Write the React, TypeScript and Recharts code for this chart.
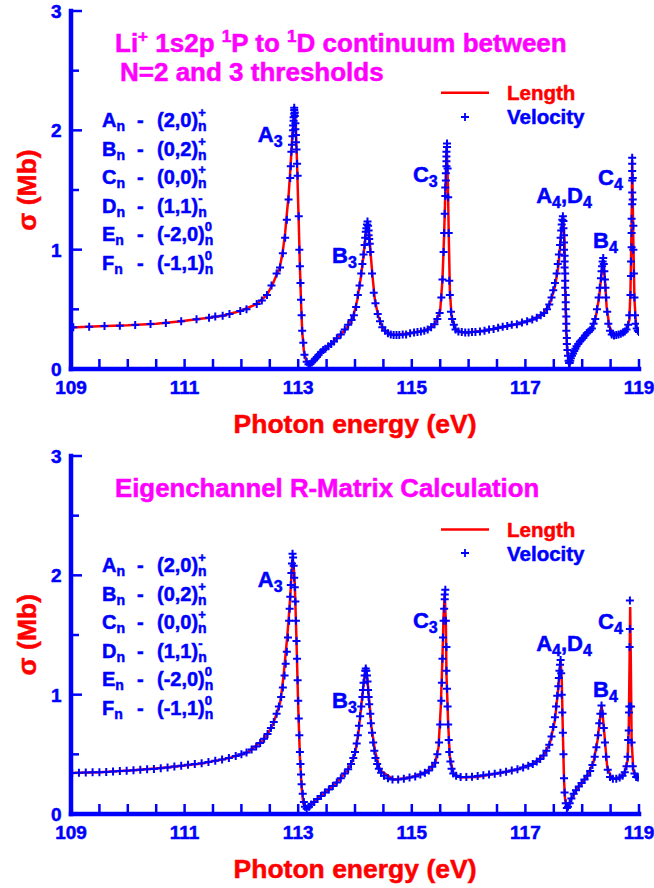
import React from 'react';
import { ComposedChart, Line, Scatter, XAxis, YAxis } from 'recharts';

const FONT = '"Liberation Sans", Arial, Helvetica, sans-serif';
const BLUE = '#0000ff';
const RED = '#ff0000';
const MAGENTA = '#ff00ff';

// ---- axes ----
const X_TICKS = [109, 109.5, 110, 110.5, 111, 111.5, 112, 112.5, 113, 113.5, 114, 114.5, 115, 115.5, 116, 116.5, 117, 117.5, 118, 118.5, 119];
const X_LABELS = [109, 111, 113, 115, 117, 119];
const Y_TICKS = [0, 0.5, 1, 1.5, 2, 2.5, 3];
const Y_LABELS = [0, 1, 2, 3];

// ---- top panel: length form (photon energy eV, sigma Mb) ----
const TOP_LENGTH: [number, number][] = [
  [109.0, 0.348], [109.5, 0.358], [110.0, 0.366], [110.5, 0.38], [110.94, 0.4], [111.21, 0.416], [111.43, 0.43],
  [111.67, 0.447], [111.98, 0.486], [112.27, 0.545], [112.45, 0.62], [112.56, 0.72], [112.62, 0.79], [112.68, 0.86],
  [112.73, 0.99], [112.77, 1.14], [112.8, 1.3], [112.83, 1.45], [112.86, 1.66], [112.88, 1.82], [112.9, 1.98],
  [112.92, 2.1], [112.93, 2.15], [112.945, 2.12], [112.96, 2.02], [112.98, 1.72], [113.0, 1.38], [113.01, 1.22],
  [113.03, 0.86], [113.05, 0.56], [113.07, 0.32], [113.1, 0.15], [113.14, 0.07], [113.19, 0.036], [113.24, 0.05],
  [113.3, 0.085], [113.38, 0.13], [113.53, 0.19], [113.68, 0.257], [113.85, 0.34], [113.97, 0.44], [114.04, 0.58],
  [114.1, 0.76], [114.15, 0.95], [114.19, 1.14], [114.22, 1.23], [114.25, 1.14], [114.28, 0.94], [114.31, 0.77],
  [114.35, 0.58], [114.41, 0.44], [114.5, 0.33], [114.67, 0.285], [114.97, 0.3], [115.26, 0.327], [115.41, 0.38],
  [115.5, 0.49], [115.54, 0.75], [115.57, 1.14], [115.595, 1.56], [115.615, 1.86], [115.635, 1.56], [115.65, 1.14],
  [115.67, 0.66], [115.7, 0.44], [115.76, 0.34], [115.85, 0.31], [115.97, 0.305], [116.26, 0.32], [116.55, 0.346],
  [116.85, 0.375], [117.14, 0.416], [117.32, 0.467], [117.43, 0.55], [117.52, 0.69], [117.58, 0.86], [117.62, 1.08],
  [117.66, 1.28], [117.69, 1.08], [117.7, 0.66], [117.72, 0.3], [117.74, 0.13], [117.77, 0.048], [117.82, 0.103],
  [117.9, 0.187], [118.02, 0.257], [118.17, 0.34], [118.24, 0.44], [118.3, 0.606], [118.34, 0.8], [118.37, 0.91],
  [118.4, 0.75], [118.43, 0.52], [118.48, 0.355], [118.55, 0.285], [118.67, 0.293], [118.78, 0.327], [118.83, 0.41],
  [118.85, 0.66], [118.87, 1.22], [118.88, 1.75], [118.9, 1.08], [118.92, 0.58], [118.95, 0.355], [119.0, 0.31],
];

// ---- top panel: velocity form ----
const TOP_VELOCITY: [number, number][] = [
  [109.04, 0.35], [109.32, 0.355], [109.59, 0.36], [109.86, 0.363], [110.13, 0.369], [110.4, 0.377], [110.67, 0.386],
  [110.94, 0.4], [111.21, 0.416], [111.43, 0.43], [111.54, 0.44], [111.67, 0.447], [111.79, 0.46], [111.98, 0.486],
  [112.09, 0.5], [112.27, 0.545], [112.36, 0.575], [112.45, 0.62], [112.53, 0.7], [112.62, 0.8], [112.68, 0.85],
  [112.73, 0.97], [112.77, 1.1], [112.8, 1.25], [112.83, 1.42], [112.86, 1.6], [112.87, 1.7], [112.88, 1.82],
  [112.89, 1.88], [112.9, 1.95], [112.91, 2.0], [112.91, 2.04], [112.92, 2.08], [112.92, 2.11], [112.93, 2.14],
  [112.93, 2.17], [112.93, 2.19], [112.94, 2.15], [112.94, 2.12], [112.95, 2.06], [112.95, 2.01], [112.96, 1.96],
  [112.96, 1.9], [112.97, 1.84], [112.98, 1.72], [112.99, 1.62], [113.01, 1.28], [113.02, 1.0], [113.03, 0.86],
  [113.04, 0.72], [113.05, 0.58], [113.06, 0.45], [113.07, 0.32], [113.09, 0.22], [113.11, 0.12], [113.15, 0.06],
  [113.18, 0.04], [113.21, 0.04], [113.24, 0.055], [113.27, 0.07], [113.3, 0.085], [113.33, 0.1], [113.36, 0.12],
  [113.4, 0.14], [113.44, 0.16], [113.48, 0.17], [113.53, 0.19], [113.58, 0.21], [113.63, 0.23], [113.68, 0.257],
  [113.75, 0.29], [113.82, 0.33], [113.88, 0.37], [113.94, 0.41], [113.98, 0.45], [114.02, 0.52], [114.05, 0.62],
  [114.08, 0.7], [114.11, 0.8], [114.13, 0.88], [114.15, 0.96], [114.17, 1.04], [114.18, 1.1], [114.19, 1.15],
  [114.2, 1.18], [114.21, 1.21], [114.22, 1.235], [114.23, 1.2], [114.24, 1.16], [114.24, 1.12], [114.25, 1.09],
  [114.26, 1.05], [114.27, 0.98], [114.3, 0.8], [114.33, 0.64], [114.36, 0.55], [114.4, 0.46], [114.44, 0.4],
  [114.48, 0.35], [114.53, 0.32], [114.58, 0.3], [114.63, 0.29], [114.68, 0.285], [114.73, 0.285], [114.78, 0.285],
  [114.84, 0.29], [114.9, 0.29], [114.97, 0.3], [115.04, 0.305], [115.1, 0.31], [115.16, 0.315], [115.22, 0.32],
  [115.28, 0.33], [115.34, 0.35], [115.4, 0.375], [115.45, 0.42], [115.49, 0.47], [115.52, 0.6], [115.54, 0.75],
  [115.56, 0.98], [115.57, 1.14], [115.58, 1.3], [115.59, 1.45], [115.59, 1.52], [115.6, 1.58], [115.6, 1.64],
  [115.61, 1.7], [115.61, 1.74], [115.61, 1.78], [115.61, 1.82], [115.62, 1.86], [115.62, 1.89], [115.63, 1.68],
  [115.64, 1.44], [115.65, 1.14], [115.66, 0.74], [115.67, 0.62], [115.69, 0.48], [115.71, 0.42], [115.74, 0.37],
  [115.77, 0.33], [115.82, 0.315], [115.88, 0.31], [115.94, 0.305], [116.0, 0.305], [116.06, 0.31], [116.12, 0.31],
  [116.2, 0.315], [116.28, 0.32], [116.36, 0.33], [116.44, 0.335], [116.52, 0.345], [116.6, 0.355], [116.68, 0.36],
  [116.76, 0.37], [116.85, 0.375], [116.94, 0.39], [117.03, 0.4], [117.12, 0.415], [117.2, 0.43], [117.27, 0.45],
  [117.33, 0.47], [117.38, 0.5], [117.42, 0.54], [117.46, 0.6], [117.49, 0.66], [117.52, 0.72], [117.55, 0.8],
  [117.57, 0.88], [117.59, 0.96], [117.61, 1.04], [117.62, 1.1], [117.63, 1.16], [117.64, 1.21], [117.65, 1.25],
  [117.66, 1.28], [117.67, 1.24], [117.67, 1.18], [117.68, 1.12], [117.68, 1.06], [117.68, 1.0], [117.69, 0.95],
  [117.69, 0.9], [117.69, 0.85], [117.7, 0.8], [117.7, 0.74], [117.7, 0.68], [117.71, 0.62], [117.71, 0.56],
  [117.71, 0.5], [117.72, 0.44], [117.72, 0.38], [117.72, 0.32], [117.73, 0.26], [117.73, 0.21], [117.74, 0.16],
  [117.75, 0.11], [117.76, 0.07], [117.77, 0.05], [117.78, 0.05], [117.79, 0.07], [117.8, 0.09], [117.82, 0.11],
  [117.84, 0.13], [117.86, 0.15], [117.88, 0.17], [117.9, 0.19], [117.93, 0.21], [117.96, 0.23], [117.99, 0.245],
  [118.02, 0.26], [118.05, 0.28], [118.08, 0.3], [118.11, 0.31], [118.14, 0.325], [118.17, 0.34], [118.2, 0.38],
  [118.23, 0.42], [118.26, 0.5], [118.29, 0.6], [118.31, 0.68], [118.33, 0.76], [118.34, 0.82], [118.35, 0.86],
  [118.36, 0.9], [118.37, 0.93], [118.38, 0.88], [118.39, 0.82], [118.4, 0.75], [118.41, 0.68], [118.42, 0.6],
  [118.44, 0.48], [118.46, 0.38], [118.49, 0.32], [118.52, 0.29], [118.56, 0.28], [118.6, 0.285], [118.64, 0.29],
  [118.68, 0.295], [118.72, 0.305], [118.75, 0.315], [118.78, 0.33], [118.81, 0.37], [118.83, 0.45], [118.85, 0.62],
  [118.86, 0.78], [118.86, 0.9], [118.87, 1.02], [118.87, 1.14], [118.87, 1.26], [118.88, 1.38], [118.88, 1.48],
  [118.88, 1.58], [118.88, 1.66], [118.88, 1.72], [118.88, 1.77], [118.89, 1.6], [118.89, 1.42], [118.9, 1.2],
  [118.9, 1.0], [118.91, 0.8], [118.92, 0.6], [118.93, 0.45], [118.94, 0.38], [118.96, 0.34], [118.98, 0.32],
  [119.0, 0.31],
];

// ---- bottom panel: length form ----
const BOTTOM_LENGTH: [number, number][] = [
  [109.0, 0.343], [109.51, 0.35], [110.1, 0.366], [110.68, 0.389], [111.27, 0.422], [111.74, 0.464], [112.09, 0.511],
  [112.39, 0.618], [112.5, 0.7], [112.56, 0.758], [112.62, 0.84], [112.68, 0.93], [112.71, 1.03], [112.74, 1.15],
  [112.77, 1.3], [112.8, 1.45], [112.83, 1.62], [112.85, 1.76], [112.87, 1.9], [112.89, 2.06], [112.9, 2.15],
  [112.92, 2.08], [112.94, 1.93], [112.97, 1.455], [113.0, 0.9], [113.03, 0.48], [113.06, 0.226], [113.09, 0.087],
  [113.15, 0.045], [113.24, 0.087], [113.38, 0.142], [113.56, 0.213], [113.74, 0.297], [113.91, 0.394], [114.0, 0.506],
  [114.06, 0.674], [114.12, 0.953], [114.16, 1.12], [114.19, 1.219], [114.22, 1.12], [114.25, 0.953], [114.29, 0.73],
  [114.35, 0.534], [114.44, 0.366], [114.68, 0.288], [114.97, 0.305], [115.26, 0.352], [115.41, 0.422], [115.47, 0.56],
  [115.51, 0.897], [115.54, 1.316], [115.56, 1.68], [115.58, 1.847], [115.6, 1.596], [115.61, 1.177], [115.64, 0.758],
  [115.67, 0.478], [115.73, 0.339], [115.85, 0.305], [116.14, 0.31], [116.49, 0.339], [116.85, 0.372], [117.14, 0.422],
  [117.32, 0.492], [117.43, 0.59], [117.52, 0.785], [117.58, 1.065], [117.62, 1.288], [117.64, 1.12], [117.66, 0.674],
  [117.68, 0.282], [117.7, 0.115], [117.74, 0.045], [117.81, 0.129], [117.93, 0.226], [118.08, 0.31], [118.2, 0.436],
  [118.27, 0.618], [118.31, 0.785], [118.34, 0.91], [118.37, 0.785], [118.4, 0.618], [118.44, 0.394], [118.52, 0.297],
  [118.64, 0.297], [118.74, 0.339], [118.8, 0.45], [118.82, 0.73], [118.835, 1.316], [118.845, 1.735], [118.855, 1.316],
  [118.87, 0.618], [118.9, 0.366], [118.96, 0.305], [119.0, 0.3],
];

// ---- bottom panel: velocity form ----
const BOTTOM_VELOCITY: [number, number][] = [
  [109.02, 0.344], [109.14, 0.346], [109.26, 0.348], [109.38, 0.349], [109.5, 0.35], [109.62, 0.353], [109.74, 0.356],
  [109.86, 0.36], [109.98, 0.363], [110.1, 0.366], [110.22, 0.37], [110.34, 0.374], [110.46, 0.378], [110.58, 0.384],
  [110.7, 0.39], [110.82, 0.397], [110.94, 0.405], [111.06, 0.412], [111.18, 0.418], [111.3, 0.425], [111.42, 0.435],
  [111.54, 0.447], [111.66, 0.457], [111.78, 0.47], [111.9, 0.485], [112.0, 0.5], [112.09, 0.515], [112.18, 0.54],
  [112.26, 0.565], [112.33, 0.595], [112.4, 0.63], [112.46, 0.67], [112.52, 0.72], [112.57, 0.77], [112.62, 0.84],
  [112.66, 0.9], [112.7, 0.98], [112.73, 1.06], [112.76, 1.16], [112.78, 1.26], [112.8, 1.36], [112.82, 1.48],
  [112.84, 1.62], [112.85, 1.72], [112.86, 1.82], [112.87, 1.92], [112.88, 2.02], [112.89, 2.1], [112.9, 2.18],
  [112.91, 2.15], [112.92, 2.08], [112.93, 1.98], [112.94, 1.9], [112.95, 1.78], [112.96, 1.62], [112.97, 1.45],
  [112.98, 1.3], [112.99, 1.12], [113.0, 0.95], [113.01, 0.8], [113.02, 0.66], [113.03, 0.52], [113.04, 0.42],
  [113.05, 0.33], [113.06, 0.25], [113.08, 0.17], [113.1, 0.1], [113.12, 0.06], [113.15, 0.045], [113.19, 0.06],
  [113.23, 0.08], [113.28, 0.1], [113.34, 0.125], [113.4, 0.15], [113.47, 0.18], [113.54, 0.205], [113.61, 0.235],
  [113.68, 0.265], [113.75, 0.3], [113.82, 0.34], [113.88, 0.375], [113.93, 0.42], [113.97, 0.47], [114.0, 0.52],
  [114.03, 0.59], [114.05, 0.66], [114.07, 0.74], [114.09, 0.82], [114.11, 0.9], [114.13, 0.98], [114.14, 1.04],
  [114.15, 1.1], [114.17, 1.16], [114.18, 1.2], [114.19, 1.22], [114.2, 1.2], [114.21, 1.16], [114.22, 1.11],
  [114.23, 1.04], [114.24, 0.98], [114.25, 0.92], [114.27, 0.84], [114.28, 0.76], [114.3, 0.68], [114.32, 0.6],
  [114.34, 0.53], [114.36, 0.47], [114.39, 0.42], [114.42, 0.38], [114.46, 0.345], [114.51, 0.32], [114.58, 0.3],
  [114.66, 0.29], [114.76, 0.29], [114.86, 0.295], [114.96, 0.305], [115.06, 0.315], [115.15, 0.33], [115.23, 0.345],
  [115.3, 0.365], [115.36, 0.395], [115.41, 0.43], [115.45, 0.5], [115.48, 0.6], [115.5, 0.75], [115.52, 0.95],
  [115.53, 1.1], [115.54, 1.3], [115.55, 1.48], [115.56, 1.62], [115.57, 1.72], [115.58, 1.8], [115.58, 1.84],
  [115.59, 1.88], [115.6, 1.62], [115.61, 1.4], [115.61, 1.2], [115.62, 1.05], [115.63, 0.9], [115.64, 0.75],
  [115.65, 0.62], [115.66, 0.52], [115.68, 0.44], [115.7, 0.38], [115.73, 0.34], [115.78, 0.32], [115.86, 0.31],
  [115.96, 0.31], [116.06, 0.312], [116.16, 0.318], [116.26, 0.325], [116.36, 0.33], [116.46, 0.338], [116.56, 0.345],
  [116.66, 0.355], [116.76, 0.365], [116.86, 0.375], [116.96, 0.39], [117.05, 0.405], [117.13, 0.42], [117.2, 0.44],
  [117.26, 0.46], [117.32, 0.49], [117.37, 0.53], [117.42, 0.58], [117.46, 0.65], [117.49, 0.73], [117.52, 0.81],
  [117.54, 0.9], [117.56, 0.99], [117.58, 1.07], [117.59, 1.14], [117.6, 1.2], [117.61, 1.25], [117.62, 1.29],
  [117.63, 1.18], [117.64, 1.0], [117.65, 0.85], [117.66, 0.68], [117.67, 0.5], [117.68, 0.3], [117.69, 0.18],
  [117.71, 0.09], [117.73, 0.05], [117.75, 0.06], [117.78, 0.09], [117.81, 0.13], [117.85, 0.17], [117.89, 0.2],
  [117.94, 0.23], [117.99, 0.26], [118.04, 0.29], [118.09, 0.32], [118.14, 0.36], [118.18, 0.41], [118.22, 0.48],
  [118.25, 0.56], [118.28, 0.66], [118.3, 0.76], [118.32, 0.84], [118.34, 0.91], [118.36, 0.84], [118.38, 0.72],
  [118.4, 0.6], [118.42, 0.48], [118.45, 0.37], [118.49, 0.31], [118.54, 0.295], [118.6, 0.295], [118.66, 0.305],
  [118.71, 0.32], [118.75, 0.35], [118.78, 0.4], [118.8, 0.48], [118.81, 0.62], [118.82, 0.7], [118.825, 0.85],
  [118.83, 0.9], [118.835, 1.4], [118.84, 1.55], [118.84, 1.79], [118.86, 0.9], [118.87, 0.6], [118.89, 0.4],
  [118.92, 0.34], [118.95, 0.31], [118.98, 0.305],
];

// ---- resonance labels (anchor = start of text, baseline) ----
type Seg = [string, boolean];
const TOP_PEAKS: { e: number; s: number; segs: Seg[] }[] = [
  { e: 112.29, s: 1.9, segs: [['A', false], ['3', true]] },
  { e: 113.595, s: 0.889, segs: [['B', false], ['3', true]] },
  { e: 115.02, s: 1.567, segs: [['C', false], ['3', true]] },
  { e: 117.19, s: 1.39, segs: [['A', false], ['4', true], [',', false], ['D', false], ['4', true]] },
  { e: 118.19, s: 1.014, segs: [['B', false], ['4', true]] },
  { e: 118.28, s: 1.54, segs: [['C', false], ['4', true]] },
];
const BOTTOM_PEAKS: { e: number; s: number; segs: Seg[] }[] = [
  { e: 112.29, s: 1.9, segs: [['A', false], ['3', true]] },
  { e: 113.595, s: 0.886, segs: [['B', false], ['3', true]] },
  { e: 115.02, s: 1.557, segs: [['C', false], ['3', true]] },
  { e: 117.19, s: 1.37, segs: [['A', false], ['4', true], [',', false], ['D', false], ['4', true]] },
  { e: 118.19, s: 0.978, segs: [['B', false], ['4', true]] },
  { e: 118.28, s: 1.55, segs: [['C', false], ['4', true]] },
];

// ---- channel classification list ----
const CHANNELS: { l: string; q: string; sup: string; supW: number }[] = [
  { l: 'A', q: '(2,0)', sup: '+', supW: 7.6 },
  { l: 'B', q: '(0,2)', sup: '+', supW: 7.6 },
  { l: 'C', q: '(0,0)', sup: '+', supW: 7.6 },
  { l: 'D', q: '(1,1)', sup: '-', supW: 4.3 },
  { l: 'E', q: '(-2,0)', sup: '0', supW: 7.2 },
  { l: 'F', q: '(-1,1)', sup: '0', supW: 7.2 },
];

const axisStyle = { stroke: BLUE, strokeWidth: 4.5, strokeLinecap: 'square' as const };

const BottomTick = (p: any) => {
  const v = p.payload.value;
  const lab = X_LABELS.includes(v);
  return (
    <g>
      <line x1={p.x} x2={p.x} y1={p.y} y2={p.y - 10} stroke={BLUE} strokeWidth={2.5} />
      {lab && (
        <text x={p.x} y={p.y + 24.5} textAnchor="middle" fontFamily={FONT} fontWeight="bold" fontSize={19} fill={BLUE} stroke={BLUE} strokeWidth={0.5}>
          {v}
        </text>
      )}
    </g>
  );
};
const TopTick = (p: any) => (
  <line x1={p.x} x2={p.x} y1={p.y} y2={p.y + 7} stroke={BLUE} strokeWidth={2.5} />
);
const LeftTick = (p: any) => {
  const v = p.payload.value;
  const lab = Y_LABELS.includes(v);
  return (
    <g>
      <line x1={p.x} x2={p.x + (lab ? 11 : 8)} y1={p.y} y2={p.y} stroke={BLUE} strokeWidth={2.5} />
      {lab && (
        <text x={p.x - 9.5} y={p.y + 7} textAnchor="end" fontFamily={FONT} fontWeight="bold" fontSize={19} fill={BLUE} stroke={BLUE} strokeWidth={0.5}>
          {v}
        </text>
      )}
    </g>
  );
};
const RightTick = (p: any) => {
  const lab = Y_LABELS.includes(p.payload.value);
  return <line x1={p.x} x2={p.x - (lab ? 10.5 : 7.5)} y1={p.y} y2={p.y} stroke={BLUE} strokeWidth={2.5} />;
};

const PlusShape = (p: any) => {
  const { cx, cy } = p;
  if (cx == null || cy == null) return <g />;
  return <path d={`M${cx - 4},${cy}H${cx + 4}M${cx},${cy - 4}V${cy + 4}`} stroke={BLUE} strokeWidth={2} fill="none" />;
};

const PeakShape = (p: any) => {
  const { cx, cy, payload } = p;
  if (cx == null || cy == null) return <g />;
  const segs: Seg[] = payload.segs;
  let prevSub = false;
  return (
    <text x={cx} y={cy} fontFamily={FONT} fontWeight="bold" fontSize={22} fill={BLUE} stroke={BLUE} strokeWidth={0.5}>
      {segs.map(([t, sub], i) => {
        const dy = sub && !prevSub ? 5 : !sub && prevSub ? -5 : 0;
        prevSub = sub;
        return (
          <tspan key={i} dy={dy} fontSize={sub ? 16 : 22}>
            {t}
          </tspan>
        );
      })}
    </text>
  );
};

function Panel({ length, velocity, peaks, height }: { length: [number, number][]; velocity: [number, number][]; peaks: any[]; height: number }) {
  const lengthData = length.map(([e, s]) => ({ e, s }));
  const velData = velocity.map(([e, s]) => ({ e, s }));
  const peakData = peaks.map((p) => ({ e: p.e, s: p.s, segs: p.segs }));
  return (
    <ComposedChart width={654} height={height} margin={{ top: 11, right: 15, bottom: 0, left: 0 }}>
      <XAxis
        xAxisId={0}
        type="number"
        dataKey="e"
        domain={[109, 119]}
        allowDataOverflow
        ticks={X_TICKS}
        interval={0}
        height={height - 369}
        tickSize={0}
        tickMargin={0}
        tickLine={false}
        axisLine={axisStyle}
        tick={BottomTick}
      />
      <XAxis
        xAxisId="top"
        orientation="top"
        type="number"
        dataKey="e"
        domain={[109, 119]}
        allowDataOverflow
        ticks={X_TICKS}
        interval={0}
        height={0}
        tickSize={0}
        tickMargin={0}
        tickLine={false}
        axisLine={axisStyle}
        tick={TopTick}
      />
      <YAxis
        yAxisId={0}
        type="number"
        dataKey="s"
        domain={[0, 3]}
        allowDataOverflow
        ticks={Y_TICKS}
        interval={0}
        width={71}
        tickSize={0}
        tickMargin={0}
        tickLine={false}
        axisLine={axisStyle}
        tick={LeftTick}
      />
      <YAxis
        yAxisId="right"
        orientation="right"
        type="number"
        dataKey="s"
        domain={[0, 3]}
        allowDataOverflow
        ticks={Y_TICKS}
        interval={0}
        width={0}
        tickSize={0}
        tickMargin={0}
        tickLine={false}
        axisLine={axisStyle}
        tick={RightTick}
      />
      <Line data={lengthData} dataKey="s" type="linear" stroke={RED} strokeWidth={2.5} dot={false} activeDot={false} isAnimationActive={false} />
      <Scatter data={velData} dataKey="s" shape={PlusShape} isAnimationActive={false} />
      <Scatter data={peakData} dataKey="s" shape={PeakShape} isAnimationActive={false} />
    </ComposedChart>
  );
}

const txt = { fontFamily: FONT, fontWeight: 'bold' as const, strokeWidth: 0.5 };

function ChannelList({ baseY }: { baseY: number }) {
  return (
    <g>
      {CHANNELS.map((c, i) => {
        const y = baseY + i * 28.5;
        return (
          <g key={c.l}>
            <text x={102} y={y} {...txt} fontSize={20} fill={BLUE} stroke={BLUE}>
              {c.l}
              <tspan dy={4} fontSize={14}>n</tspan>
            </text>
            <text x={137} y={y} {...txt} fontSize={20} fill={BLUE} stroke={BLUE}>-</text>
            <text x={157} y={y} {...txt} fontSize={20} fill={BLUE} stroke={BLUE}>
              {c.q}
              <tspan dy={-10} fontSize={13}>{c.sup}</tspan>
              <tspan dx={-c.supW} dy={14} fontSize={14}>n</tspan>
            </text>
          </g>
        );
      })}
    </g>
  );
}

function Legend({ lineY, lenBase, plusY, velBase }: { lineY: number; lenBase: number; plusY: number; velBase: number }) {
  return (
    <g>
      <line x1={441} x2={489} y1={lineY} y2={lineY} stroke={RED} strokeWidth={2.5} />
      <text x={507} y={lenBase} {...txt} fontSize={20.5} fill={RED} stroke={RED}>Length</text>
      <path d={`M${461},${plusY}H${469}M${465},${plusY - 4}V${plusY + 4}`} stroke={BLUE} strokeWidth={1.8} />
      <text x={507} y={velBase} {...txt} fontSize={20.5} fill={BLUE} stroke={BLUE}>Velocity</text>
    </g>
  );
}

function AxisTitles({ off }: { off: number }) {
  return (
    <g>
      <text x={355} y={433 + off} textAnchor="middle" {...txt} fontSize={26.5} fill={RED} stroke={RED}>
        Photon energy (eV)
      </text>
      <text
        x={36}
        y={190 + off}
        transform={`rotate(-90 36 ${190 + off})`}
        textAnchor="middle"
        {...txt}
        fontSize={26.5}
        fill={RED}
        stroke={RED}
      >
        σ (Mb)
      </text>
    </g>
  );
}

export default function App() {
  return (
    <div style={{ position: 'absolute', left: 0, top: 0, width: 654, height: 888, background: '#fff', overflow: 'hidden' }}>
      <div style={{ position: 'absolute', left: 0, top: 0 }}>
        <Panel length={TOP_LENGTH} velocity={TOP_VELOCITY} peaks={TOP_PEAKS} height={444} />
      </div>
      <div style={{ position: 'absolute', left: 0, top: 445 }}>
        <Panel length={BOTTOM_LENGTH} velocity={BOTTOM_VELOCITY} peaks={BOTTOM_PEAKS} height={443} />
      </div>
      <svg width={654} height={888} style={{ position: 'absolute', left: 0, top: 0, pointerEvents: 'none' }}>
        {/* top panel annotations */}
        <text x={115} y={52} {...txt} fontSize={26} fill={MAGENTA} stroke={MAGENTA}>
          Li
          <tspan dy={-10} fontSize={17}>+</tspan>
          <tspan dy={10}>{' 1s2p '}</tspan>
          <tspan dy={-10} fontSize={17}>1</tspan>
          <tspan dy={10}>{'P to '}</tspan>
          <tspan dy={-10} fontSize={17}>1</tspan>
          <tspan dy={10}>{'D continuum between'}</tspan>
        </text>
        <text x={120} y={81} {...txt} fontSize={26} fill={MAGENTA} stroke={MAGENTA}>
          N=2 and 3 thresholds
        </text>
        <Legend lineY={92.7} lenBase={100} plusY={117} velBase={124} />
        <ChannelList baseY={127} />
        <AxisTitles off={0} />
        {/* bottom panel annotations */}
        <text x={115} y={497} {...txt} fontSize={25.8} fill={MAGENTA} stroke={MAGENTA}>
          Eigenchannel R-Matrix Calculation
        </text>
        <Legend lineY={529.5} lenBase={537} plusY={553} velBase={561} />
        <ChannelList baseY={572} />
        <AxisTitles off={444.7} />
      </svg>
    </div>
  );
}
